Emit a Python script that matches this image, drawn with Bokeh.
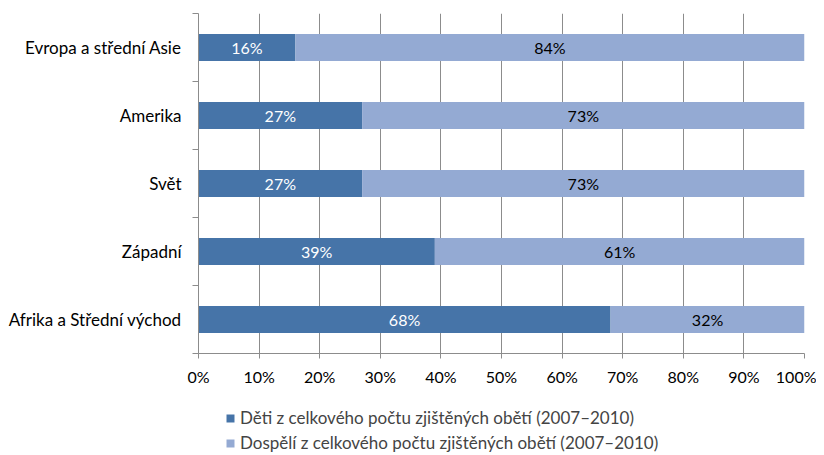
from bokeh.plotting import figure
from bokeh.layouts import column
from bokeh.models import ColumnDataSource, FixedTicker, Legend, LegendItem, NumeralTickFormatter
from bokeh.core.properties import value
from bokeh.embed import file_html
from bokeh.resources import INLINE

categories = ["Afrika a Střední východ", "Západní", "Svět", "Amerika", "Evropa a střední Asie"]
children = [68, 39, 27, 27, 16]
adults = [32, 61, 73, 73, 84]
x_ticks = [0, 10, 20, 30, 40, 50, 60, 70, 80, 90, 100]
series_names = ["Děti z celkového počtu zjištěných obětí (2007–2010)",
                "Dospělí z celkového počtu zjištěných obětí (2007–2010)"]

FONT = "Lato"
DARK = "#4674A8"
LIGHT = "#94AAD3"
GRID = "#8C8C8C"

y = [i + 0.5 for i in range(len(categories))]
src = ColumnDataSource(dict(
    y=y,
    c_left=[0] * len(children),
    c_right=children,
    a_left=children,
    a_right=[c + a for c, a in zip(children, adults)],
    c_mid=[c / 2 for c in children],
    a_mid=[c + a / 2 for c, a in zip(children, adults)],
    c_lab=[f"{c}%" for c in children],
    a_lab=[f"{a}%" for a in adults],
))

p = figure(width=816, height=390, output_backend="svg", toolbar_location=None,
           x_range=(0, 100), y_range=(0, len(categories)),
           min_border_left=198, min_border_right=12, min_border_top=13, min_border_bottom=37)
p.outline_line_color = None
p.background_fill_color = "white"

p.hbar(y="y", left="c_left", right="c_right", height=0.4, source=src,
       fill_color=DARK, line_color=None)
p.hbar(y="y", left="a_left", right="a_right", height=0.4, source=src,
       fill_color=LIGHT, line_color=None)

p.text(x="c_mid", y="y", text="c_lab", source=src, text_color="white",
       text_font=value(FONT), text_font_size="16px", text_align="center", text_baseline="middle")
p.text(x="a_mid", y="y", text="a_lab", source=src, text_color="black",
       text_font=value(FONT), text_font_size="16px", text_align="center", text_baseline="middle")

# x axis
p.xaxis.ticker = FixedTicker(ticks=x_ticks)
p.xaxis.formatter = NumeralTickFormatter(format="0")
p.xaxis.major_label_overrides = {t: f"{t}%" for t in x_ticks}
p.xaxis.axis_line_color = GRID
p.xaxis.major_tick_line_color = GRID
p.xaxis.major_tick_in = 0
p.xaxis.major_tick_out = 5
p.xaxis.minor_tick_line_color = None
p.xaxis.major_label_text_font = FONT
p.xaxis.major_label_text_font_size = "16px"
p.xaxis.major_label_text_color = "black"
p.xaxis.major_label_standoff = 8

# y axis
p.yaxis.ticker = FixedTicker(ticks=y, minor_ticks=list(range(len(categories) + 1)))
p.yaxis.major_label_overrides = {yy: c for yy, c in zip(y, categories)}
p.yaxis.axis_line_color = GRID
p.yaxis.major_tick_line_color = None
p.yaxis.minor_tick_line_color = GRID
p.yaxis.minor_tick_in = 0
p.yaxis.minor_tick_out = 6
p.yaxis.major_label_text_font = FONT
p.yaxis.major_label_text_font_size = "17px"
p.yaxis.major_label_text_color = "black"
p.yaxis.major_label_standoff = 11

p.xgrid.ticker = FixedTicker(ticks=x_ticks)
p.xgrid.grid_line_color = GRID
p.ygrid.grid_line_color = None

# legend strip below the chart (its swatch renderers lie fully outside its visible ranges)
p2 = figure(width=816, height=63, output_backend="svg", toolbar_location=None,
            x_range=(-2000, -1990), y_range=(1000, 1005),
            x_axis_type=None, y_axis_type=None, min_border=0)
p2.outline_line_color = None
p2.grid.grid_line_color = None
s1 = p2.hbar(y="y", left="c_left", right="c_right", height=0.4, source=src,
             fill_color=DARK, line_color=None)
s2 = p2.hbar(y="y", left="a_left", right="a_right", height=0.4, source=src,
             fill_color=LIGHT, line_color=None)

legend = Legend(items=[LegendItem(label=series_names[0], renderers=[s1]),
                       LegendItem(label=series_names[1], renderers=[s2])],
                location=(27, 0), orientation="vertical",
                glyph_width=10, glyph_height=10, label_standoff=5, spacing=4,
                label_height=21, label_text_font=FONT, label_text_font_size="17px",
                background_fill_alpha=0, border_line_color=None, padding=0, margin=0)
p2.add_layout(legend, "center")

open("out.html", "w").write(file_html(column(p, p2, spacing=0), INLINE))
